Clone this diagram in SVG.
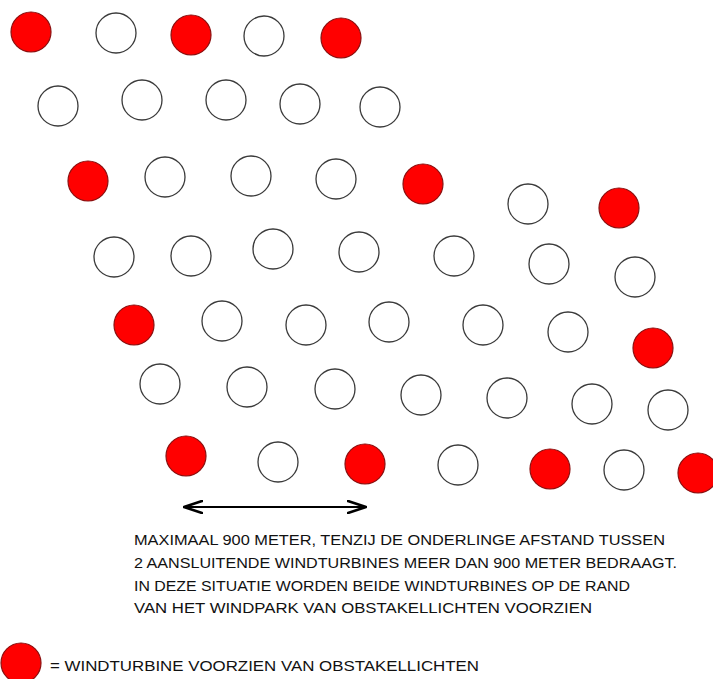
<svg xmlns="http://www.w3.org/2000/svg" width="713" height="679" viewBox="0 0 713 679">
<style>
.w{fill:#fff;stroke:#3a3a3a;stroke-width:1.3}
.r{fill:#ff0000;stroke:#8a1010;stroke-width:1.2}
.t{font-family:"Liberation Sans",Arial,sans-serif;font-size:15.5px;fill:#111}
.lt{font-family:"Liberation Sans",Arial,sans-serif;font-size:14.5px;fill:#111}
</style>
<defs>
<marker id="chev" viewBox="0 0 20 14" refX="19" refY="7" markerWidth="20" markerHeight="14" markerUnits="userSpaceOnUse" orient="auto-start-reverse">
<path d="M1,1 L19,7 L1,13" fill="none" stroke="#000" stroke-width="2.6" stroke-linecap="round" stroke-linejoin="round"/>
</marker>
</defs>
<rect width="713" height="679" fill="#fff"/>
<g id="turbines">
<g id="row1">
<circle class="r" cx="31" cy="32" r="20"/>
<circle class="w" cx="116" cy="33" r="20"/>
<circle class="r" cx="191" cy="35" r="20"/>
<circle class="w" cx="264" cy="36" r="20"/>
<circle class="r" cx="341" cy="38" r="20"/>
</g>
<g id="row2">
<circle class="w" cx="58" cy="106" r="20"/>
<circle class="w" cx="142" cy="100" r="20"/>
<circle class="w" cx="226" cy="100" r="20"/>
<circle class="w" cx="300" cy="104" r="20"/>
<circle class="w" cx="380" cy="107" r="20"/>
</g>
<g id="row3">
<circle class="r" cx="88" cy="181" r="20"/>
<circle class="w" cx="165" cy="177" r="20"/>
<circle class="w" cx="251" cy="176" r="20"/>
<circle class="w" cx="336" cy="179" r="20"/>
<circle class="r" cx="423" cy="184" r="20"/>
<circle class="w" cx="528" cy="204" r="20"/>
<circle class="r" cx="619" cy="208" r="20"/>
</g>
<g id="row4">
<circle class="w" cx="114" cy="257" r="20"/>
<circle class="w" cx="191" cy="256" r="20"/>
<circle class="w" cx="273" cy="249" r="20"/>
<circle class="w" cx="359" cy="252" r="20"/>
<circle class="w" cx="454" cy="256" r="20"/>
<circle class="w" cx="549" cy="264" r="20"/>
<circle class="w" cx="635" cy="277" r="20"/>
</g>
<g id="row5">
<circle class="r" cx="134" cy="325" r="20"/>
<circle class="w" cx="222" cy="321" r="20"/>
<circle class="w" cx="306" cy="325" r="20"/>
<circle class="w" cx="389" cy="322" r="20"/>
<circle class="w" cx="483" cy="325" r="20"/>
<circle class="w" cx="568" cy="332" r="20"/>
<circle class="r" cx="653" cy="348" r="20"/>
</g>
<g id="row6">
<circle class="w" cx="160" cy="384" r="20"/>
<circle class="w" cx="247" cy="387" r="20"/>
<circle class="w" cx="335" cy="389" r="20"/>
<circle class="w" cx="421" cy="395" r="20"/>
<circle class="w" cx="507" cy="398" r="20"/>
<circle class="w" cx="592" cy="404" r="20"/>
<circle class="w" cx="668" cy="410" r="20"/>
</g>
<g id="row7">
<circle class="r" cx="186" cy="456" r="20"/>
<circle class="w" cx="278" cy="462" r="20"/>
<circle class="r" cx="365" cy="464" r="20"/>
<circle class="w" cx="458" cy="465" r="20"/>
<circle class="r" cx="550" cy="469" r="20"/>
<circle class="w" cx="624" cy="470" r="20"/>
<circle class="r" cx="698" cy="473" r="20"/>
</g>
</g>
<g id="connectors">
<line x1="184" y1="507" x2="366" y2="507" stroke="#000" stroke-width="2" marker-start="url(#chev)" marker-end="url(#chev)"/>
</g>
<g id="note">
<text class="t" x="134" y="544.5" textLength="531" lengthAdjust="spacingAndGlyphs">MAXIMAAL 900 METER, TENZIJ DE ONDERLINGE AFSTAND TUSSEN</text>
<text class="t" x="134" y="568" textLength="543" lengthAdjust="spacingAndGlyphs">2 AANSLUITENDE WINDTURBINES MEER DAN 900 METER BEDRAAGT.</text>
<text class="t" x="134" y="590.5" textLength="496" lengthAdjust="spacingAndGlyphs">IN DEZE SITUATIE WORDEN BEIDE WINDTURBINES OP DE RAND</text>
<text class="t" x="134" y="612.5" textLength="458" lengthAdjust="spacingAndGlyphs">VAN HET WINDPARK VAN OBSTAKELLICHTEN VOORZIEN</text>
</g>
<g id="legend">
<circle class="r" cx="21" cy="663" r="20"/>
<text class="lt" x="50" y="671" textLength="429" lengthAdjust="spacingAndGlyphs">= WINDTURBINE VOORZIEN VAN OBSTAKELLICHTEN</text>
</g>
</svg>
